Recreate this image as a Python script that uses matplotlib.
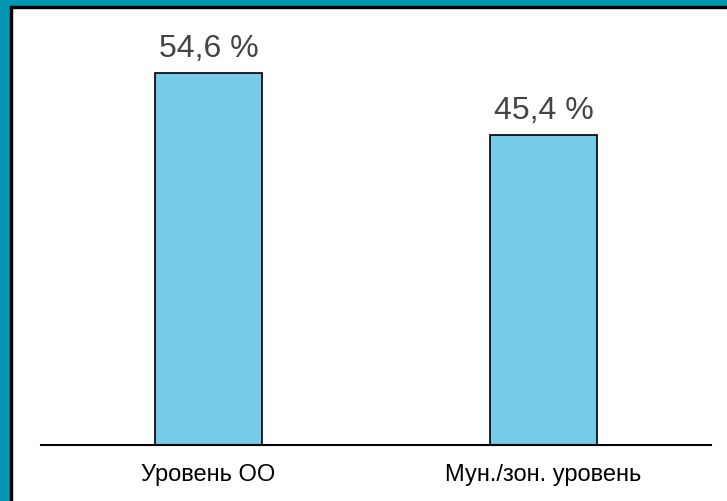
import matplotlib.pyplot as plt
from matplotlib.patches import Rectangle

plt.rcParams["font.family"] = ["Liberation Sans", "DejaVu Sans"]

categories = ["Уровень ОО", "Мун./зон. уровень"]
shares = [54.6, 45.4]
value_labels = ["54,6 %", "45,4 %"]

W, H = 727, 501
fig = plt.figure(figsize=(W / 100, H / 100), dpi=100)
fig.patch.set_facecolor("white")

# teal frame on top/left with thin dark inner edge
teal = "#0096b0"
fig.patches.append(Rectangle((0, 0), 10 / W, 1, transform=fig.transFigure, color=teal, zorder=0))
fig.patches.append(Rectangle((0, 1 - 6 / H), 1, 6 / H, transform=fig.transFigure, color=teal, zorder=0))
fig.patches.append(Rectangle((10 / W, 0), 2 / W, 1 - 6 / H, transform=fig.transFigure, color="black", zorder=1))
fig.patches.append(Rectangle((10 / W, 1 - 7.5 / H), 1 - 10 / W, 1.5 / H, transform=fig.transFigure, color="black", zorder=1))

# axes: x 41..711 px, y-zero at 445 px
ymax = 60
top_px = 445 - ymax * 6.82
ax = fig.add_axes([41 / W, (H - 445) / H, 670 / W, (445 - top_px) / H])
x = range(len(categories))
bars = ax.bar(x, shares, width=0.32, color="#75cbe8", edgecolor="black", linewidth=1.2)

for b, lab in zip(bars, value_labels):
    ax.annotate(lab, (b.get_x() + b.get_width() / 2, b.get_height()),
                xytext=(0, 11.5), textcoords="offset points", ha="center", va="baseline",
                fontsize=23, color="#444444")

ax.set_xlim(-0.5, 1.5)
ax.set_ylim(0, ymax)
ax.set_xticks(list(x))
ax.set_xticklabels(categories, fontsize=17, color="black")
ax.tick_params(axis="x", length=0, pad=14)
ax.set_yticks([])
for side in ["top", "right", "left"]:
    ax.spines[side].set_visible(False)
ax.spines["bottom"].set_linewidth(1.5)
ax.patch.set_alpha(0)

fig.savefig("out.png", dpi=100)
